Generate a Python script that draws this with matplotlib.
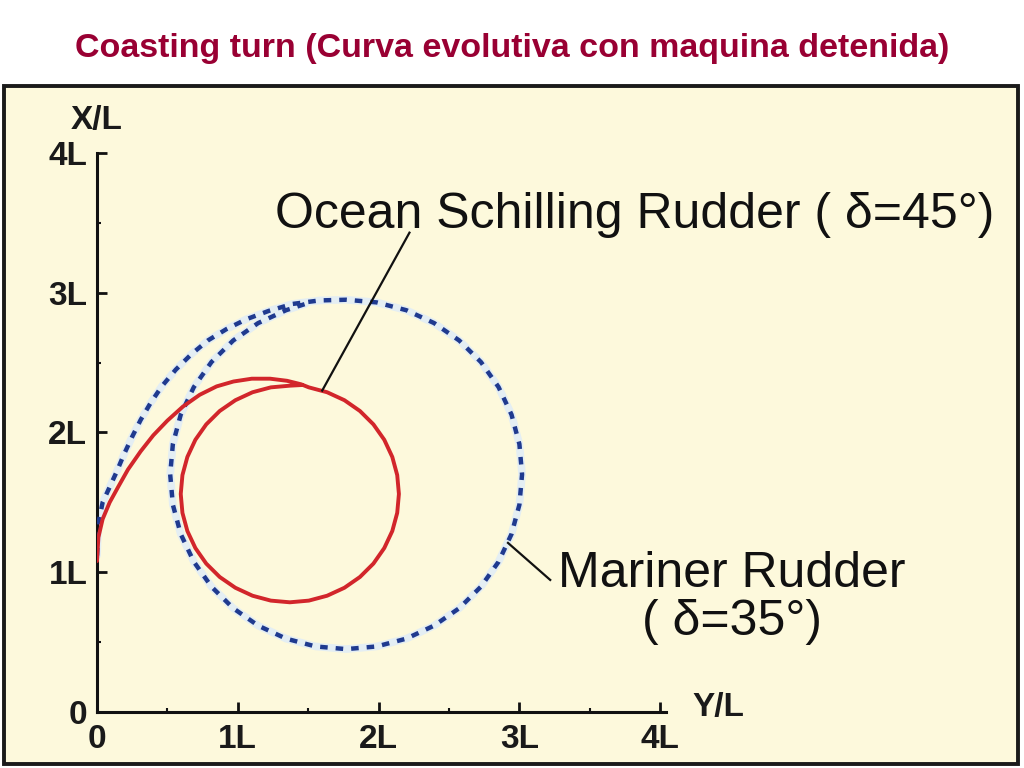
import matplotlib
matplotlib.use('Agg')
import matplotlib.pyplot as plt
from matplotlib.patches import Rectangle

# Trayectorias (Y/L, X/L)
# Ocean Schilling Rudder (delta = 45 grados): tramo inicial y lazo
ocean_y = [0.00, 0.01, 0.04, 0.09, 0.15, 0.22, 0.31, 0.40, 0.50, 0.61, 0.73, 0.85,
           0.97, 1.10, 1.23, 1.35, 1.45,
           1.505, 1.635, 1.758, 1.868, 1.964, 2.041, 2.098, 2.133, 2.145,
           2.133, 2.098, 2.041, 1.964, 1.868, 1.758, 1.635, 1.505, 1.37,
           1.235, 1.105, 0.983, 0.872, 0.776, 0.699, 0.642, 0.607, 0.595,
           0.607, 0.642, 0.699, 0.776, 0.872, 0.983, 1.105, 1.235, 1.37, 1.46]
ocean_x = [1.08, 1.25, 1.38, 1.50, 1.61, 1.735, 1.865, 1.98, 2.085, 2.185, 2.27, 2.33,
           2.365, 2.385, 2.385, 2.37, 2.345,
           2.323, 2.288, 2.231, 2.154, 2.058, 1.948, 1.825, 1.695, 1.56,
           1.425, 1.295, 1.173, 1.062, 0.966, 0.889, 0.832, 0.797, 0.785,
           0.797, 0.832, 0.889, 0.966, 1.062, 1.173, 1.295, 1.425, 1.56,
           1.695, 1.825, 1.948, 2.058, 2.154, 2.231, 2.288, 2.323, 2.335, 2.34]

# Mariner Rudder (delta = 35 grados)
mariner_y = [0.00, 0.01, 0.04, 0.09, 0.14, 0.19, 0.25, 0.31, 0.38, 0.46, 0.56, 0.67,
             0.79, 0.92, 1.06, 1.22, 1.39, 1.58,
             1.77, 1.987, 2.198, 2.395, 2.574, 2.728, 2.853, 2.945, 3.001, 3.02,
             3.001, 2.945, 2.853, 2.728, 2.574, 2.395, 2.198, 1.987, 1.77,
             1.553, 1.343, 1.145, 0.967, 0.813, 0.688, 0.595, 0.539, 0.52,
             0.539, 0.595, 0.688, 0.813, 0.967, 1.145, 1.343, 1.48]
mariner_x = [1.12, 1.35, 1.50, 1.61, 1.72, 1.84, 1.97, 2.09, 2.21, 2.33, 2.45, 2.56,
             2.66, 2.74, 2.81, 2.87, 2.92, 2.945,
             2.95, 2.931, 2.875, 2.783, 2.658, 2.504, 2.325, 2.128, 1.917, 1.70,
             1.483, 1.273, 1.075, 0.897, 0.743, 0.618, 0.525, 0.469, 0.45,
             0.469, 0.525, 0.618, 0.743, 0.897, 1.075, 1.273, 1.483, 1.70,
             1.917, 2.128, 2.325, 2.504, 2.658, 2.783, 2.875, 2.92]

# Lineas de referencia de las etiquetas
ocean_leader_y = [1.60, 2.22]
ocean_leader_x = [2.30, 3.43]
mariner_leader_y = [2.92, 3.22]
mariner_leader_x = [1.21, 0.945]

ticks = [0, 1, 2, 3, 4]
tick_labels = ['0', '1L', '2L', '3L', '4L']
minor_ticks = [0.5, 1.5, 2.5, 3.5]

titulo = 'Coasting turn (Curva evolutiva con maquina detenida)'
texto_ocean = 'Ocean Schilling Rudder ( δ=45°)'
texto_mariner = 'Mariner Rudder'
texto_mariner2 = '( δ=35°)'

W, H = 1024, 768
fig = plt.figure(figsize=(W / 100, H / 100), dpi=100)
fig.patch.set_facecolor('white')

# Fondo crema del recuadro (detras de los ejes)
fig.add_artist(Rectangle((4 / W, 4 / H), 1014 / W, 678 / H, transform=fig.transFigure,
                         facecolor='#FDF9DC', edgecolor='#1a1a1a', linewidth=2.8,
                         zorder=-10))

# Titulo
fig.text(0.5, 1 - 48 / H, titulo, ha='center', va='center', color='#990033',
         fontsize=24.5, fontweight='bold', family='Liberation Sans')

# Ejes: origen en (97, 712) px, 1L = 140.75 px (horizontal) y 139.75 px (vertical)
ax = fig.add_axes([97 / W, 56 / H, 927 / W, 712 / H])
ax.set_facecolor('none')
ax.set_xlim(0, 927 / 140.75)
ax.set_ylim(0, 712 / 139.75)

for s in ['top', 'right']:
    ax.spines[s].set_visible(False)
ax.spines['left'].set_bounds(0, 4)
ax.spines['bottom'].set_bounds(0, 4.04)
for s in ['left', 'bottom']:
    ax.spines[s].set_linewidth(2.2)
    ax.spines[s].set_color('#111111')

ax.set_xticks(ticks)
ax.set_xticklabels(tick_labels)
ax.set_yticks(ticks)
ax.set_yticklabels(tick_labels)
ax.set_xticks(minor_ticks, minor=True)
ax.set_yticks(minor_ticks, minor=True)
ax.tick_params(which='major', direction='in', length=7, width=2, color='#111111')
ax.tick_params(which='minor', direction='in', length=3, width=1.5, color='#111111')
ax.tick_params(axis='x', which='major', pad=9)
ax.tick_params(axis='y', which='major', pad=7)
for lab in ax.get_xticklabels() + ax.get_yticklabels():
    lab.set_fontsize(24)
    lab.set_fontweight('bold')
    lab.set_family('Liberation Sans')
    lab.set_color('#1a1a1a')

# Curvas
ax.plot(mariner_y, mariner_x, color='#E4EEF3', linewidth=5.5, solid_capstyle='round',
        solid_joinstyle='round', zorder=2)
ax.plot(mariner_y, mariner_x, color='#1F3A8F', linewidth=3.2, linestyle=(0, (1.7, 1.8)), zorder=3)
ax.plot(ocean_y, ocean_x, color='#D2262B', linewidth=2.8, solid_joinstyle='round',
        solid_capstyle='round', zorder=4)

# Lineas de referencia
ax.plot(ocean_leader_y, ocean_leader_x, color='#111111', linewidth=1.6, zorder=5)
ax.plot(mariner_leader_y, mariner_leader_x, color='#111111', linewidth=1.6, zorder=5)

# Textos
fuente = 'Liberation Sans'
ax.text(1.265, 3.463, texto_ocean, fontsize=36, family=fuente, color='#111111', va='baseline')
ax.text(4.51, 0.894, texto_mariner, fontsize=36, family=fuente, color='#111111',
        va='baseline', ha='center')
ax.text(4.51, 0.551, texto_mariner2, fontsize=36, family=fuente, color='#111111',
        va='baseline', ha='center')
ax.text(0, 4.236, 'X/L', fontsize=24, fontweight='bold', family=fuente, color='#1a1a1a',
        ha='center', va='center')
ax.text(4.23, 0.03, 'Y/L', fontsize=24, fontweight='bold', family=fuente, color='#1a1a1a',
        ha='left', va='center')

fig.savefig('out.png', dpi=100)
